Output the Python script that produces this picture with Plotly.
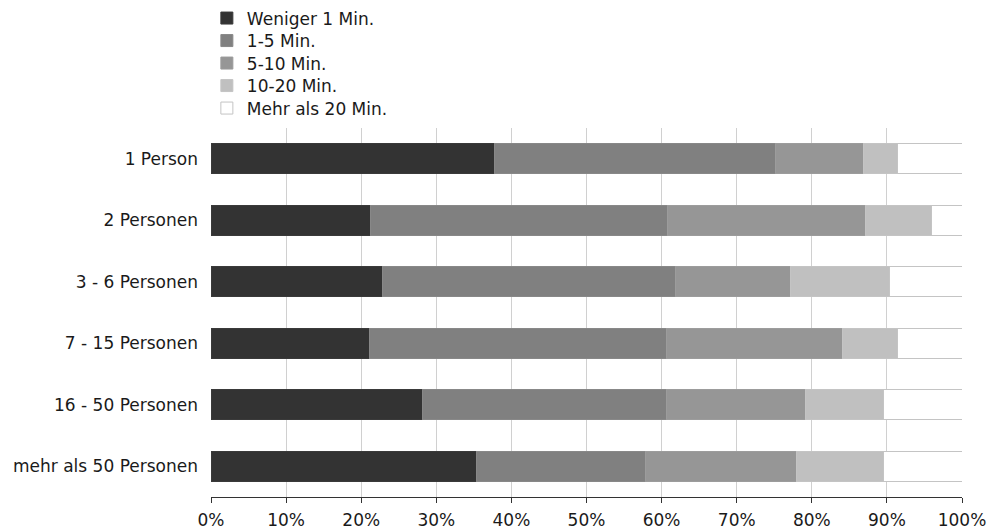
import plotly.graph_objects as go

categories = ["1 Person", "2 Personen", "3 - 6 Personen", "7 - 15 Personen",
              "16 - 50 Personen", "mehr als 50 Personen"]
series_names = ["Weniger 1 Min.", "1-5 Min.", "5-10 Min.", "10-20 Min.", "Mehr als 20 Min."]
weniger_1 = [37.7, 21.3, 22.85, 21.1, 28.1, 35.3]
min_1_5 = [37.5, 39.5, 38.95, 39.5, 32.5, 22.5]
min_5_10 = [11.7, 26.3, 15.3, 23.5, 18.6, 20.2]
min_10_20 = [4.5, 8.9, 13.3, 7.3, 10.4, 11.6]
mehr_20 = [8.6, 4.0, 9.6, 8.6, 10.4, 10.4]
tick_vals = [0, 10, 20, 30, 40, 50, 60, 70, 80, 90, 100]
tick_text = [f"{v}%" for v in tick_vals]

series_values = [weniger_1, min_1_5, min_5_10, min_10_20, mehr_20]
fills = ["#333333", "#808080", "#969696", "#c0c0c0", "#ffffff"]
borders = ["#3a3a3a", "#888888", "#9c9c9c", "#c4c4c4", "#c4c4c4"]

FONT = "DejaVu Sans, Verdana, sans-serif"
TEXT = "#1a1a1a"

fig = go.Figure()
legend_layouts = {}
for i, (name, vals, fc, bc) in enumerate(zip(series_names, series_values, fills, borders)):
    lg = "legend" if i == 0 else f"legend{i + 1}"
    fig.add_trace(go.Bar(
        y=categories, x=vals, name=name, orientation="h", legend=lg,
        showlegend=True,
        marker=dict(color=fc, line=dict(color=bc, width=1)),
    ))
    legend_layouts[lg] = dict(
        x=-0.0055, y=1 - (22.5 * i + 0.5) / 531, xref="paper", yref="container",
        xanchor="left", yanchor="top",
        font=dict(family=FONT, size=17, color=TEXT),
        itemwidth=30, bgcolor="rgba(0,0,0,0)",
    )

fig.update_layout(
    showlegend=True,
    barmode="stack",
    bargap=0.51,
    width=988, height=531,
    margin=dict(l=211, r=26, t=128, b=33.5, pad=0, autoexpand=False),
    paper_bgcolor="white", plot_bgcolor="white",
    font=dict(family=FONT, size=17, color=TEXT),
    xaxis=dict(
        range=[0, 100], tickvals=tick_vals, ticktext=tick_text,
        showgrid=True, gridcolor="#d0d0d0", gridwidth=1,
        showline=True, linecolor="#333333", linewidth=1,
        ticks="outside", ticklen=5, tickcolor="#333333",
        zeroline=False, fixedrange=True, automargin=False,
        ticklabelstandoff=3,
    ),
    yaxis=dict(
        categoryorder="array", categoryarray=categories, autorange="reversed",
        showgrid=False, showline=False, ticks="", ticklabelstandoff=12,
        zeroline=False, automargin=False,
    ),
    **legend_layouts,
)

fig.write_html("out.html", config={"displayModeBar": False},
               post_script="document.body.style.margin='0';")
